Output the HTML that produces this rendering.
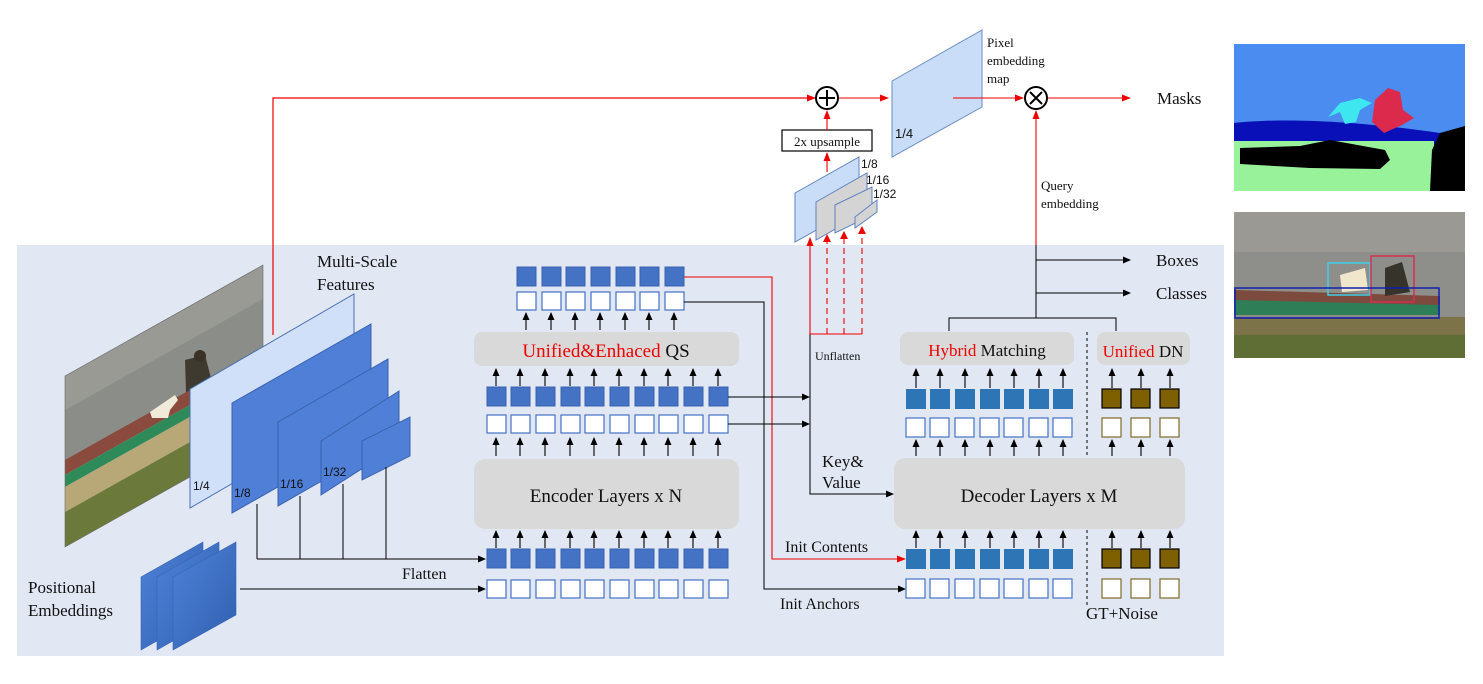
<!DOCTYPE html>
<html><head><meta charset="utf-8"><style>
html,body{margin:0;padding:0;background:#fff;}
svg{display:block;}
text{font-family:"Liberation Serif",serif;fill:#111;}
.s{font-family:"Liberation Sans",sans-serif;}
</style></head><body>
<svg width="1483" height="684" viewBox="0 0 1483 684" xmlns="http://www.w3.org/2000/svg">
<defs>
<marker id="ab" markerWidth="8" markerHeight="8" refX="7" refY="4" orient="auto" markerUnits="userSpaceOnUse"><path d="M0,0.5 L8,4 L0,7.5z" fill="#000"/></marker>
<marker id="ar" markerWidth="9" markerHeight="8" refX="8" refY="4" orient="auto" markerUnits="userSpaceOnUse"><path d="M0,0.5 L9,4 L0,7.5z" fill="#e00"/></marker>
<linearGradient id="pe" x1="0" y1="0" x2="1" y2="1"><stop offset="0" stop-color="#4f82d8"/><stop offset="1" stop-color="#2f5fb0"/></linearGradient>
<clipPath id="pc"><polygon points="65,376 263,265 263,436 65,547"/></clipPath>
</defs>
<!-- panel -->
<rect x="17" y="245" width="1207" height="411" fill="#e1e8f4"/>

<!-- photo -->
<g clip-path="url(#pc)">
<g transform="matrix(1 -0.5606 0 1 0 36.44)">
<rect x="65" y="370" width="200" height="95" fill="#8b8d88"/>
<rect x="65" y="370" width="200" height="40" fill="#999a94"/>
<rect x="65" y="460" width="200" height="15" fill="#8a4a3e"/>
<rect x="65" y="475" width="200" height="12" fill="#2f8a5a"/>
<rect x="65" y="487" width="200" height="25" fill="#b8a878"/>
<rect x="65" y="512" width="200" height="40" fill="#6b7a3a"/>
</g>
<path d="M150,412 L175,395 L178,400 L170,410 L168,418 L152,418z" fill="#f1ead8"/>
<path d="M185,360 L205,355 L212,382 L186,392z" fill="#3e3a30"/>
<circle cx="200" cy="356" r="6" fill="#3a3226"/>
</g>
<polygon points="65,376 263,265 263,436 65,547" fill="none" stroke="#666" stroke-width="0.6"/>

<!-- red top line -->
<polyline points="273,335 273,98 815,98" fill="none" stroke="#e00" stroke-width="1.2" marker-end="url(#ar)"/>

<!-- multiscale layers -->
<polygon points="190,389 354,294 354,413 190,508" fill="#cfe0f8" stroke="#4a6fb0" stroke-width="1"/>
<polygon points="232,403 371,324 371,434 232,513" fill="#4f7fd6" stroke="#3a62b0" stroke-width="1"/>
<polygon points="278,422 388,359 388,443 278,506" fill="#4f7fd6" stroke="#3a62b0" stroke-width="1"/>
<polygon points="321,441 399,391 399,445 321,495" fill="#4f7fd6" stroke="#3a62b0" stroke-width="1"/>
<polygon points="362,441 410,417 410,456 362,480" fill="#4f7fd6" stroke="#3a62b0" stroke-width="1"/>
<text class="s" x="193" y="490" font-size="12">1/4</text>
<text class="s" x="234" y="497" font-size="12">1/8</text>
<text class="s" x="280" y="488" font-size="12">1/16</text>
<text class="s" x="323" y="476" font-size="12">1/32</text>
<text x="317" y="267" font-size="17">Multi-Scale</text>
<text x="317" y="290" font-size="17">Features</text>

<!-- flatten lines -->
<g stroke="#000" stroke-width="1" fill="none">
<line x1="257" y1="504" x2="257" y2="559"/>
<line x1="300" y1="496" x2="300" y2="559"/>
<line x1="343" y1="484" x2="343" y2="559"/>
<line x1="386" y1="467" x2="386" y2="559"/>
<line x1="257" y1="559" x2="485" y2="559" marker-end="url(#ab)"/>
<line x1="240" y1="589" x2="485" y2="589" marker-end="url(#ab)"/>
</g>
<text x="402" y="579" font-size="16">Flatten</text>

<!-- positional embeddings -->
<polygon points="141,577 203,542 203,615 141,650" fill="url(#pe)" stroke="#3a62b0" stroke-width="0.6"/>
<polygon points="157,577 219,542 219,615 157,650" fill="url(#pe)" stroke="#3a62b0" stroke-width="0.6"/>
<polygon points="173,577 236,542 236,615 173,650" fill="url(#pe)" stroke="#3a62b0" stroke-width="0.6"/>
<text x="28" y="593" font-size="17">Positional</text>
<text x="28" y="616" font-size="17">Embeddings</text>

<!-- encoder tokens -->
<g id="enc">
<g fill="#4472c4" stroke="#3a62b0">
<rect x="487" y="549" width="19" height="19"/><rect x="511" y="549" width="19" height="19"/><rect x="536" y="549" width="19" height="19"/><rect x="561" y="549" width="19" height="19"/><rect x="585" y="549" width="19" height="19"/><rect x="610" y="549" width="19" height="19"/><rect x="635" y="549" width="19" height="19"/><rect x="659" y="549" width="19" height="19"/><rect x="684" y="549" width="19" height="19"/><rect x="709" y="549" width="19" height="19"/>
<rect x="487" y="387" width="19" height="19"/><rect x="511" y="387" width="19" height="19"/><rect x="536" y="387" width="19" height="19"/><rect x="561" y="387" width="19" height="19"/><rect x="585" y="387" width="19" height="19"/><rect x="610" y="387" width="19" height="19"/><rect x="635" y="387" width="19" height="19"/><rect x="659" y="387" width="19" height="19"/><rect x="684" y="387" width="19" height="19"/><rect x="709" y="387" width="19" height="19"/>
<rect x="517" y="267" width="19" height="19"/><rect x="542" y="267" width="19" height="19"/><rect x="566" y="267" width="19" height="19"/><rect x="591" y="267" width="19" height="19"/><rect x="616" y="267" width="19" height="19"/><rect x="640" y="267" width="19" height="19"/><rect x="665" y="267" width="19" height="19"/>
</g>
<g fill="#fff" stroke="#4472c4" stroke-width="1.2">
<rect x="487" y="580" width="19" height="18"/><rect x="511" y="580" width="19" height="18"/><rect x="536" y="580" width="19" height="18"/><rect x="561" y="580" width="19" height="18"/><rect x="585" y="580" width="19" height="18"/><rect x="610" y="580" width="19" height="18"/><rect x="635" y="580" width="19" height="18"/><rect x="659" y="580" width="19" height="18"/><rect x="684" y="580" width="19" height="18"/><rect x="709" y="580" width="19" height="18"/>
<rect x="487" y="415" width="19" height="18"/><rect x="511" y="415" width="19" height="18"/><rect x="536" y="415" width="19" height="18"/><rect x="561" y="415" width="19" height="18"/><rect x="585" y="415" width="19" height="18"/><rect x="610" y="415" width="19" height="18"/><rect x="635" y="415" width="19" height="18"/><rect x="659" y="415" width="19" height="18"/><rect x="684" y="415" width="19" height="18"/><rect x="709" y="415" width="19" height="18"/>
<rect x="517" y="292" width="19" height="18"/><rect x="542" y="292" width="19" height="18"/><rect x="566" y="292" width="19" height="18"/><rect x="591" y="292" width="19" height="18"/><rect x="616" y="292" width="19" height="18"/><rect x="640" y="292" width="19" height="18"/><rect x="665" y="292" width="19" height="18"/>
</g>
</g>
<!-- encoder arrows -->
<g stroke="#000" stroke-width="1.1" marker-end="url(#ab)">
<line x1="496" y1="548" x2="496" y2="531"/><line x1="520" y1="548" x2="520" y2="531"/><line x1="545" y1="548" x2="545" y2="531"/><line x1="570" y1="548" x2="570" y2="531"/><line x1="594" y1="548" x2="594" y2="531"/><line x1="619" y1="548" x2="619" y2="531"/><line x1="644" y1="548" x2="644" y2="531"/><line x1="668" y1="548" x2="668" y2="531"/><line x1="693" y1="548" x2="693" y2="531"/><line x1="718" y1="548" x2="718" y2="531"/>
<line x1="496" y1="456" x2="496" y2="438"/><line x1="520" y1="456" x2="520" y2="438"/><line x1="545" y1="456" x2="545" y2="438"/><line x1="570" y1="456" x2="570" y2="438"/><line x1="594" y1="456" x2="594" y2="438"/><line x1="619" y1="456" x2="619" y2="438"/><line x1="644" y1="456" x2="644" y2="438"/><line x1="668" y1="456" x2="668" y2="438"/><line x1="693" y1="456" x2="693" y2="438"/><line x1="718" y1="456" x2="718" y2="438"/>
<line x1="496" y1="386" x2="496" y2="369"/><line x1="520" y1="386" x2="520" y2="369"/><line x1="545" y1="386" x2="545" y2="369"/><line x1="570" y1="386" x2="570" y2="369"/><line x1="594" y1="386" x2="594" y2="369"/><line x1="619" y1="386" x2="619" y2="369"/><line x1="644" y1="386" x2="644" y2="369"/><line x1="668" y1="386" x2="668" y2="369"/><line x1="693" y1="386" x2="693" y2="369"/><line x1="718" y1="386" x2="718" y2="369"/>
<line x1="526" y1="330" x2="526" y2="313"/><line x1="551" y1="330" x2="551" y2="313"/><line x1="575" y1="330" x2="575" y2="313"/><line x1="600" y1="330" x2="600" y2="313"/><line x1="625" y1="330" x2="625" y2="313"/><line x1="649" y1="330" x2="649" y2="313"/><line x1="674" y1="330" x2="674" y2="313"/>
</g>
<rect x="474" y="459" width="265" height="70" rx="11" fill="#d9d9d9"/>
<text x="606" y="502" font-size="19" text-anchor="middle">Encoder Layers x N</text>
<rect x="474" y="332" width="265" height="34" rx="8" fill="#d9d9d9"/>
<text x="606" y="357" font-size="19" text-anchor="middle"><tspan fill="#e00">Unified&amp;Enhaced</tspan> QS</text>

<!-- connections -->
<polyline points="684,277 772,277 772,559 905,559" fill="none" stroke="#e00" stroke-width="1.1" marker-end="url(#ar)"/>
<polyline points="684,302 764,302 764,589 905,589" fill="none" stroke="#000" stroke-width="1" marker-end="url(#ab)"/>
<line x1="728" y1="397" x2="809" y2="397" stroke="#000" stroke-width="1" marker-end="url(#ab)"/>
<line x1="728" y1="424" x2="809" y2="424" stroke="#000" stroke-width="1" marker-end="url(#ab)"/>
<polyline points="810,334 810,494 893,494" fill="none" stroke="#000" stroke-width="1" marker-end="url(#ab)"/>
<text x="785" y="552" font-size="16">Init Contents</text>
<text x="780" y="609" font-size="16">Init Anchors</text>
<text x="822" y="467" font-size="17">Key&amp;</text>
<text x="822" y="488" font-size="17">Value</text>
<text x="815" y="360" font-size="12">Unflatten</text>

<!-- red unflatten -->
<line x1="810" y1="334" x2="810" y2="238" stroke="#e00" stroke-width="1.1" marker-end="url(#ar)"/>
<line x1="810" y1="334" x2="862" y2="334" stroke="#e00" stroke-width="1.1"/>
<g stroke="#e00" stroke-width="1.1" stroke-dasharray="6,4">
<line x1="827" y1="334" x2="827" y2="240"/><line x1="844" y1="334" x2="844" y2="237"/><line x1="862" y1="334" x2="862" y2="232"/>
</g>
<path d="M823,242 L827,234 L831,242z M840,239 L844,231 L848,239z M858,234 L862,226 L866,234z" fill="#e00"/>

<!-- small maps -->
<polygon points="795,193 859,157 859,206 795,242" fill="#c9ddf8" stroke="#5f82bf"/>
<polygon points="816,202 867,173 867,211 816,240" fill="#d4d4d4" stroke="#5f82bf"/>
<polygon points="835,205 872,187 872,215 835,233" fill="#d4d4d4" stroke="#5f82bf"/>
<polygon points="855,217 877,200 877,212 855,228" fill="#d4d4d4" stroke="#5f82bf"/>
<text class="s" x="861" y="168" font-size="12">1/8</text>
<text class="s" x="866" y="184" font-size="12">1/16</text>
<text class="s" x="873" y="198" font-size="12">1/32</text>

<line x1="827" y1="172" x2="827" y2="153" stroke="#e00" stroke-width="1.1" marker-end="url(#ar)"/>
<rect x="782" y="130" width="90" height="21" fill="#fff" stroke="#000" stroke-width="1.2"/>
<text x="827" y="146" font-size="13" text-anchor="middle">2x upsample</text>
<line x1="827" y1="130" x2="827" y2="111" stroke="#e00" stroke-width="1.1" marker-end="url(#ar)"/>
<circle cx="827" cy="98" r="11" fill="#fff" stroke="#000" stroke-width="2"/>
<path d="M819,98 H835 M827,90 V106" stroke="#000" stroke-width="2"/>
<line x1="839" y1="98" x2="888" y2="98" stroke="#e00" stroke-width="1.1" marker-end="url(#ar)"/>

<!-- pixel embedding -->
<polygon points="892,81 982,30 982,107 892,157" fill="#c9ddf8" stroke="#6a8cc4"/>
<text class="s" x="895" y="138" font-size="13">1/4</text>
<text x="987" y="47" font-size="13">Pixel</text>
<text x="987" y="65" font-size="13">embedding</text>
<text x="987" y="83" font-size="13">map</text>
<line x1="953" y1="98" x2="1023" y2="98" stroke="#e00" stroke-width="1.1" marker-end="url(#ar)"/>
<circle cx="1036" cy="98" r="11" fill="#fff" stroke="#000" stroke-width="2"/>
<path d="M1030,92 L1042,104 M1042,92 L1030,104" stroke="#000" stroke-width="2"/>
<line x1="1048" y1="98" x2="1130" y2="98" stroke="#e00" stroke-width="1.1" marker-end="url(#ar)"/>
<text x="1157" y="104" font-size="17">Masks</text>
<line x1="1036" y1="245" x2="1036" y2="111" stroke="#e00" stroke-width="1.1" marker-end="url(#ar)"/>
<text x="1041" y="190" font-size="13">Query</text>
<text x="1041" y="208" font-size="13">embedding</text>

<!-- outputs -->
<g stroke="#000" stroke-width="1" fill="none">
<line x1="1036" y1="245" x2="1036" y2="318"/>
<line x1="1036" y1="260" x2="1130" y2="260" marker-end="url(#ab)"/>
<line x1="1036" y1="293" x2="1130" y2="293" marker-end="url(#ab)"/>
<polyline points="949,331 949,318 1116,318 1116,331"/>
<line x1="1087" y1="332" x2="1087" y2="457" stroke-dasharray="3,3"/>
<line x1="1087" y1="530" x2="1087" y2="605" stroke-dasharray="3,3"/>
</g>
<text x="1156" y="266" font-size="17">Boxes</text>
<text x="1156" y="299" font-size="17">Classes</text>

<rect x="900" y="332" width="174" height="33" rx="8" fill="#d9d9d9"/>
<text x="987" y="356" font-size="17" text-anchor="middle"><tspan fill="#e00">Hybrid</tspan> Matching</text>
<rect x="1097" y="332" width="93" height="33" rx="8" fill="#d9d9d9"/>
<text x="1143" y="357" font-size="17" text-anchor="middle"><tspan fill="#e00">Unified</tspan> DN</text>

<!-- decoder tokens -->
<g fill="#2e75b6">
<rect x="906" y="389" width="20" height="20"/><rect x="930" y="389" width="20" height="20"/><rect x="955" y="389" width="20" height="20"/><rect x="980" y="389" width="20" height="20"/><rect x="1004" y="389" width="20" height="20"/><rect x="1029" y="389" width="20" height="20"/><rect x="1053" y="389" width="20" height="20"/>
<rect x="906" y="549" width="20" height="20"/><rect x="930" y="549" width="20" height="20"/><rect x="955" y="549" width="20" height="20"/><rect x="980" y="549" width="20" height="20"/><rect x="1004" y="549" width="20" height="20"/><rect x="1029" y="549" width="20" height="20"/><rect x="1053" y="549" width="20" height="20"/>
</g>
<g fill="#fff" stroke="#4472c4" stroke-width="1.2">
<rect x="906" y="418" width="19" height="19"/><rect x="930" y="418" width="19" height="19"/><rect x="955" y="418" width="19" height="19"/><rect x="980" y="418" width="19" height="19"/><rect x="1004" y="418" width="19" height="19"/><rect x="1029" y="418" width="19" height="19"/><rect x="1053" y="418" width="19" height="19"/>
<rect x="906" y="579" width="19" height="19"/><rect x="930" y="579" width="19" height="19"/><rect x="955" y="579" width="19" height="19"/><rect x="980" y="579" width="19" height="19"/><rect x="1004" y="579" width="19" height="19"/><rect x="1029" y="579" width="19" height="19"/><rect x="1053" y="579" width="19" height="19"/>
</g>
<g fill="#7f6000" stroke="#000" stroke-width="1.2">
<rect x="1102" y="389" width="19" height="19"/><rect x="1131" y="389" width="19" height="19"/><rect x="1160" y="389" width="19" height="19"/>
<rect x="1102" y="549" width="19" height="19"/><rect x="1131" y="549" width="19" height="19"/><rect x="1160" y="549" width="19" height="19"/>
</g>
<g fill="#fff" stroke="#7f6a2a" stroke-width="1.2">
<rect x="1102" y="418" width="19" height="19"/><rect x="1131" y="418" width="19" height="19"/><rect x="1160" y="418" width="19" height="19"/>
<rect x="1102" y="579" width="19" height="19"/><rect x="1131" y="579" width="19" height="19"/><rect x="1160" y="579" width="19" height="19"/>
</g>
<g stroke="#000" stroke-width="1.1" marker-end="url(#ab)">
<line x1="916" y1="388" x2="916" y2="369"/><line x1="940" y1="388" x2="940" y2="369"/><line x1="965" y1="388" x2="965" y2="369"/><line x1="990" y1="388" x2="990" y2="369"/><line x1="1014" y1="388" x2="1014" y2="369"/><line x1="1039" y1="388" x2="1039" y2="369"/><line x1="1063" y1="388" x2="1063" y2="369"/>
<line x1="1112" y1="388" x2="1112" y2="369"/><line x1="1141" y1="388" x2="1141" y2="369"/><line x1="1170" y1="388" x2="1170" y2="369"/>
<line x1="916" y1="456" x2="916" y2="440"/><line x1="940" y1="456" x2="940" y2="440"/><line x1="965" y1="456" x2="965" y2="440"/><line x1="990" y1="456" x2="990" y2="440"/><line x1="1014" y1="456" x2="1014" y2="440"/><line x1="1039" y1="456" x2="1039" y2="440"/><line x1="1063" y1="456" x2="1063" y2="440"/>
<line x1="1112" y1="456" x2="1112" y2="440"/><line x1="1141" y1="456" x2="1141" y2="440"/><line x1="1170" y1="456" x2="1170" y2="440"/>
<line x1="916" y1="548" x2="916" y2="531"/><line x1="940" y1="548" x2="940" y2="531"/><line x1="965" y1="548" x2="965" y2="531"/><line x1="990" y1="548" x2="990" y2="531"/><line x1="1014" y1="548" x2="1014" y2="531"/><line x1="1039" y1="548" x2="1039" y2="531"/><line x1="1063" y1="548" x2="1063" y2="531"/>
<line x1="1112" y1="548" x2="1112" y2="531"/><line x1="1141" y1="548" x2="1141" y2="531"/><line x1="1170" y1="548" x2="1170" y2="531"/>
</g>
<rect x="894" y="458" width="291" height="71" rx="11" fill="#d9d9d9"/>
<text x="1039" y="502" font-size="19" text-anchor="middle">Decoder Layers x M</text>
<text x="1086" y="619" font-size="17">GT+Noise</text>

<!-- segmentation map -->
<rect x="1234" y="44" width="231" height="147" fill="#4a8cf0"/>
<path d="M1234,123 C1280,118 1350,120 1440,133 L1440,149 C1380,150 1300,146 1234,141z" fill="#0a10b8"/>
<rect x="1234" y="141" width="200" height="50" fill="#98f29a"/>
<path d="M1240,148 L1300,146 L1330,140 L1385,150 L1390,160 L1380,169 L1310,168 L1240,164z" fill="#000"/>
<path d="M1440,133 L1465,126 L1465,191 L1430,191 L1432,150z" fill="#000"/>
<path d="M1328,117 L1340,103 L1360,98 L1372,103 L1360,110 L1356,122 L1345,124 L1340,112z" fill="#3ee6f0"/>
<path d="M1372,122 L1375,100 L1388,88 L1400,92 L1403,110 L1414,118 L1402,125 L1384,133z" fill="#dc2a4c"/>

<!-- detection photo -->
<rect x="1234" y="212" width="231" height="146" fill="#8e8f8a"/>
<rect x="1234" y="212" width="231" height="40" fill="#9a9993"/>
<path d="M1234,290 L1440,296 L1440,312 L1234,312z" fill="#7d4a3e"/>
<path d="M1234,300 L1440,305 L1440,315 L1234,315z" fill="#2e7f58"/>
<rect x="1234" y="317" width="231" height="41" fill="#7c7348"/>
<rect x="1234" y="335" width="231" height="23" fill="#5e6e34"/>
<path d="M1340,275 L1365,268 L1368,290 L1342,292z" fill="#efe6cc"/>
<path d="M1385,268 L1402,262 L1410,292 L1385,296z" fill="#35332a"/>
<rect x="1328" y="263" width="42" height="32" fill="none" stroke="#3ed0e8" stroke-width="1.5"/>
<rect x="1371" y="256" width="43" height="46" fill="none" stroke="#d43050" stroke-width="1.5"/>
<rect x="1235" y="288" width="204" height="30" fill="none" stroke="#1020b0" stroke-width="1.5"/>
</svg>
</body></html>
